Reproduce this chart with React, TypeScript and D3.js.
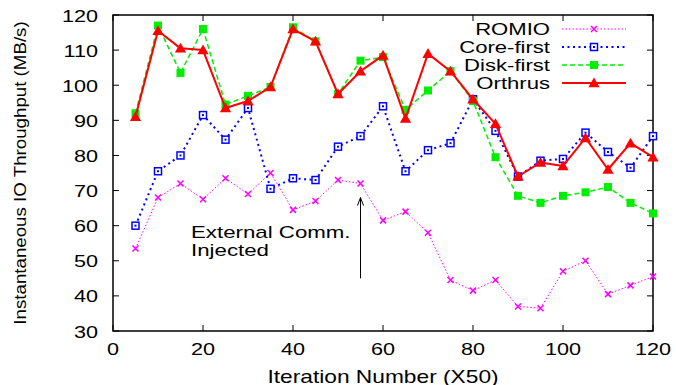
import React, { useEffect, useRef } from 'react';
import * as d3 from 'd3';

// Iterations (x50)
const iterations = [5, 10, 15, 20, 25, 30, 35, 40, 45, 50, 55, 60, 65, 70, 75, 80, 85, 90, 95, 100, 105, 110, 115, 120];

// Throughput (MB/s) per strategy
const romio = [53.5, 68, 72, 67.5, 73.5, 69, 75, 64.5, 67, 73, 72, 61.5, 64, 58, 44.5, 41.5, 44.5, 37, 36.5, 47, 50, 40.5, 43, 45.5];
const coreFirst = [60, 75.5, 80, 91.5, 84.5, 93.5, 70.5, 73.5, 73, 82.5, 85.5, 94, 75.5, 81.5, 83.5, 96, 87, 74, 78.5, 79, 86.5, 81, 76.5, 85.5];
const diskFirst = [92, 117, 103.5, 116, 94.5, 97, 99.5, 116.5, 112.5, 97.5, 107, 108, 93, 98.5, 104, 95.5, 79.5, 68.5, 66.5, 68.5, 69.5, 71, 66.5, 63.5];
const orthrus = [91, 115.5, 110.5, 110, 93.5, 95.5, 99.5, 116, 112.5, 97.5, 104, 108.5, 90.5, 109, 104, 96, 89, 74, 78, 77, 85, 76, 83.5, 79.5];

const xTicks = [0, 20, 40, 60, 80, 100, 120];
const yTicks = [30, 40, 50, 60, 70, 80, 90, 100, 110, 120];

const FONT = '"Liberation Sans", Arial, sans-serif';
const STRETCH = 1.3; // the source figure's text is drawn wide

const series = [
  { name: 'ROMIO', values: romio, color: '#ff00ff', width: 1, dash: '1.5,2', marker: 'cross' },
  { name: 'Core-first', values: coreFirst, color: '#0000ff', width: 2, dash: '2,3.5', marker: 'openSquare' },
  { name: 'Disk-first', values: diskFirst, color: '#00ee00', width: 1.5, dash: '5,3', marker: 'square' },
  { name: 'Orthrus', values: orthrus, color: '#ff0000', width: 2, dash: null, marker: 'triangle' },
];

const App = () => {
  const svgRef = useRef<SVGSVGElement>(null);

  useEffect(() => {
    const width = 676;
    const height = 385;
    const marginLeft = 113;
    const marginRight = 23;
    const marginTop = 15;
    const marginBottom = 54;

    const svg = d3.select(svgRef.current);
    svg.selectAll('*').remove();

    const x = d3.scaleLinear().domain([0, 120]).range([marginLeft, width - marginRight]);
    const y = d3.scaleLinear().domain([30, 120]).range([height - marginBottom, marginTop]);

    // stretched text helper
    const label = (tx: number, ty: number, str: string, anchor = 'start', size = 17, sx = STRETCH, rotate = 0) =>
      svg.append('text')
        .attr('transform', `translate(${tx},${ty}) rotate(${rotate}) scale(${sx},1)`)
        .attr('text-anchor', anchor)
        .attr('font-family', FONT)
        .attr('font-size', size)
        .attr('fill', 'black')
        .text(str);

    const drawMarker = (g: any, kind: string, cx: number, cy: number, color: string) => {
      if (kind === 'cross') {
        const s = 3;
        g.append('path')
          .attr('d', `M${cx - s},${cy - s}L${cx + s},${cy + s}M${cx - s},${cy + s}L${cx + s},${cy - s}`)
          .attr('stroke', color).attr('stroke-width', 1.5).attr('fill', 'none');
      } else if (kind === 'openSquare') {
        g.append('rect')
          .attr('x', cx - 3.5).attr('y', cy - 3.5).attr('width', 7).attr('height', 7)
          .attr('fill', 'white').attr('stroke', color).attr('stroke-width', 1.5);
        g.append('rect')
          .attr('x', cx - 1).attr('y', cy - 1).attr('width', 2).attr('height', 2)
          .attr('fill', color);
      } else if (kind === 'square') {
        g.append('rect')
          .attr('x', cx - 4).attr('y', cy - 4).attr('width', 8).attr('height', 8)
          .attr('fill', color);
      } else if (kind === 'triangle') {
        g.append('path')
          .attr('d', d3.symbol(d3.symbolTriangle, 55)())
          .attr('transform', `translate(${cx},${cy + 1})`)
          .attr('fill', color);
      }
    };

    // Frame
    svg.append('rect')
      .attr('x', marginLeft).attr('y', marginTop)
      .attr('width', width - marginLeft - marginRight)
      .attr('height', height - marginTop - marginBottom)
      .attr('fill', 'none').attr('stroke', 'black').attr('stroke-width', 1.5);

    // Ticks (mirrored, inward)
    const tickLen = 6;
    xTicks.forEach(t => {
      svg.append('line').attr('x1', x(t)).attr('x2', x(t))
        .attr('y1', y(30)).attr('y2', y(30) - tickLen).attr('stroke', 'black');
      svg.append('line').attr('x1', x(t)).attr('x2', x(t))
        .attr('y1', y(120)).attr('y2', y(120) + tickLen).attr('stroke', 'black');
      label(x(t), 355, String(t), 'middle', 17, 1.27);
    });
    yTicks.forEach(t => {
      svg.append('line').attr('x1', x(0)).attr('x2', x(0) + tickLen)
        .attr('y1', y(t)).attr('y2', y(t)).attr('stroke', 'black');
      svg.append('line').attr('x1', x(120)).attr('x2', x(120) - tickLen)
        .attr('y1', y(t)).attr('y2', y(t)).attr('stroke', 'black');
      label(x(0) - 15, y(t) + 6.5, String(t), 'end', 17, 1.27);
    });

    // Axis titles
    label((x(0) + x(120)) / 2, 382.5, 'Iteration Number (X50)', 'middle', 17.5, 1.3);
    label(26, (y(30) + y(120)) / 2, 'Instantaneous IO Throughput (MB/s)', 'middle', 16, 1.17, -90);

    // Series
    series.forEach(s => {
      const line = d3.line<number>()
        .x((_, i) => x(iterations[i]))
        .y(d => y(d));
      svg.append('path')
        .datum(s.values)
        .attr('fill', 'none')
        .attr('stroke', s.color)
        .attr('stroke-width', s.width)
        .attr('stroke-dasharray', s.dash)
        .attr('stroke-linejoin', 'round')
        .attr('d', line);
      const g = svg.append('g');
      s.values.forEach((v, i) => drawMarker(g, s.marker, x(iterations[i]), y(v), s.color));
    });

    // Legend
    series.forEach((s, i) => {
      const ly = 29 + i * 18;
      label(550, ly + 6, s.name, 'end', 17, 1.3);
      svg.append('line').attr('x1', 562).attr('x2', 626).attr('y1', ly).attr('y2', ly)
        .attr('stroke', s.color).attr('stroke-width', s.width)
        .attr('stroke-dasharray', s.dash);
      drawMarker(svg.append('g'), s.marker, 594, ly, s.color);
    });

    // Annotation
    label(191, 238, 'External Comm.', 'start', 17, 1.31);
    label(191, 256, 'Injected', 'start', 17, 1.31);
    svg.append('line')
      .attr('x1', x(55)).attr('x2', x(55))
      .attr('y1', y(45)).attr('y2', y(68))
      .attr('stroke', 'black').attr('stroke-width', 1);
    svg.append('path')
      .attr('d', `M${x(55) - 3},${y(68) + 8}L${x(55)},${y(68)}L${x(55) + 3},${y(68) + 8}`)
      .attr('fill', 'none').attr('stroke', 'black').attr('stroke-width', 1);
  }, []);

  return (
    <svg
      ref={svgRef}
      width={676}
      height={385}
      style={{ position: 'absolute', left: 0, top: 0, background: 'white' }}
    />
  );
};

export default App;
